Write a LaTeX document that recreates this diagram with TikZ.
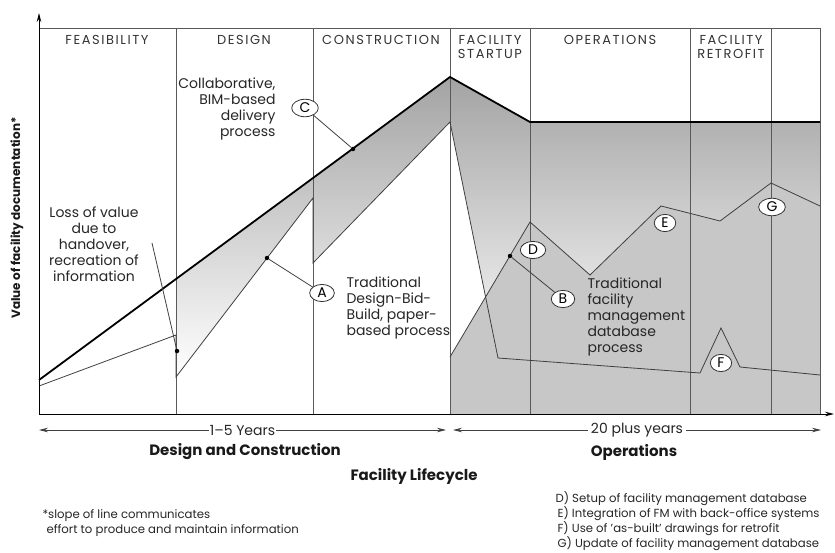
\documentclass[tikz,border=0pt]{standalone}
\usepackage{fontspec}
\setmainfont{Poppins}
\newfontfamily\headfont{Poppins}[LetterSpace=12.0]
\usetikzlibrary{arrows.meta, shapes.geometric}

\tikzset{
	phase/.style = {font=\headfont\fontsize{13}{14}\selectfont, align=center, text=black!80},
	note/.style = {font=\fontsize{14}{16}\selectfont, text=black!85},
	foot/.style = {font=\fontsize{11.7}{15}\selectfont, text=black!85, align=left},
	heading/.style = {font=\bfseries\fontsize{15}{16}\selectfont, text=black!90},
	tag/.style = {ellipse, draw=black!80, fill=white, line width=0.8pt, inner xsep=4pt, inner ysep=1.2pt, font=\fontsize{14}{14}\selectfont},
	dot/.style = {circle, fill=black, inner sep=0pt, minimum size=4.5pt},
	thin line/.style = {draw=black!75, line width=0.8pt},
	sep line/.style = {draw=black!65, line width=0.8pt},
	bim line/.style = {draw=black, line width=1.8pt},
}

\begin{document}
\begin{tikzpicture}[x=1pt, y=-1pt, >={Stealth[length=9pt, width=4.5pt]}]
		\useasboundingbox (0,0) rectangle (835,553);
		
		\coordinate (O) at (39,414);
		\coordinate (y tip) at (39,13);
		\coordinate (x tip) at (834,414);
		\coordinate (top left) at (39,28);
		\coordinate (top right) at (820,28);
		
		\coordinate (bim start) at (39,380);
		\coordinate (bim design) at (176,279);
		\coordinate (bim peak) at (450,77);
		\coordinate (bim ops) at (530,122);
		\coordinate (bim end) at (820,122);
		
		\coordinate (trad start) at (39,386);
		\coordinate (trad 1) at (176,335);
		\coordinate (trad 2) at (176,377);
		\coordinate (trad 3) at (313,198);
		\coordinate (trad 4) at (313,263);
		\coordinate (trad 5) at (450,122);
		\coordinate (trad 6) at (498,358);
		\coordinate (trad 7) at (700,373);
		\coordinate (trad 8) at (721,328);
		\coordinate (trad 9) at (740,367);
		\coordinate (trad 10) at (820,375);
		
		\coordinate (fm base left) at (450,414);
		\coordinate (fm 0) at (450,357);
		\coordinate (fm 1) at (530,222);
		\coordinate (fm 2) at (590,275);
		\coordinate (fm 3) at (661,206);
		\coordinate (fm 4) at (720,221);
		\coordinate (fm 5) at (771,183);
		\coordinate (fm 6) at (820,206);
		\coordinate (fm base right) at (820,414);
		
		\shade [top color=black!36, bottom color=white] (bim design) -- (bim peak) -- (bim ops) -- (bim end) -- (trad 10) -- (trad 9) -- (trad 8) -- (trad 7) -- (trad 6) -- (trad 5) -- (trad 4) -- (trad 3) -- (trad 2) -- cycle;
		\fill [black!22] (fm base left) -- (fm 0) -- (fm 1) -- (fm 2) -- (fm 3) -- (fm 4) -- (fm 5) -- (fm 6) -- (fm base right) -- cycle;
		
		\foreach \x in {176, 313, 450, 530, 690, 771, 820}
			\draw [sep line] (\x,28) -- (\x,414);
		\draw [sep line] (top left) -- (top right);
		
		\draw [thin line] (trad start) -- (trad 1) -- (trad 2) -- (trad 3) -- (trad 4) -- (trad 5) -- (trad 6) -- (trad 7) -- (trad 8) -- (trad 9) -- (trad 10);
		\draw [thin line] (fm 0) -- (fm 1) -- (fm 2) -- (fm 3) -- (fm 4) -- (fm 5) -- (fm 6);
		\draw [bim line] (bim start) -- (bim peak) -- (bim ops) -- (bim end);
		
		\draw [->, line width=1pt] (O) -- (y tip);
		\draw [->, line width=1pt] (O) -- (x tip);
		
		\node [phase] (feasibility) at (107,40) {FEASIBILITY};
		\node [phase] (design) at (244,40) {DESIGN};
		\node [phase] (construction) at (381,40) {CONSTRUCTION};
		\node [phase] (startup) at (490,47) {FACILITY\\STARTUP};
		\node [phase] (operations) at (610,40) {OPERATIONS};
		\node [phase] (retrofit) at (731,47) {FACILITY\\RETROFIT};
		
		\node [note, align=right, anchor=east] (bim text) at (279,109) {Collaborative,\\BIM-based\\delivery\\process};
		\node [note, align=center] (loss text) at (94,244) {Loss of value\\due to\\handover,\\recreation of\\information};
		\node [note, align=left, anchor=west] (trad text) at (343,308) {Traditional\\Design-Bid-\\Build, paper-\\based process};
		\node [note, align=left, anchor=west] (fm text) at (584,317) {Traditional\\facility\\management\\database\\process};
		
		\node [dot] (dot C) at (353,149) {};
		\node [dot] (dot A) at (267,258) {};
		\node [dot] (dot loss) at (177,351) {};
		\node [dot] (dot D) at (510,256) {};
		\coordinate (loss tip) at (152,243);
		
		\node [tag] (tag C) at (305,108) {C};
		\node [tag] (tag A) at (322,293) {A};
		\node [tag] (tag B) at (563,299) {B};
		\node [tag] (tag D) at (533,250) {D};
		\node [tag] (tag E) at (665,223) {E};
		\node [tag] (tag F) at (721,363) {F};
		\node [tag] (tag G) at (772,207) {G};
		
		\draw [thin line] (dot C) -- (tag C);
		\draw [thin line] (dot A) -- (tag A);
		\draw [thin line] (dot D) -- (tag B);
		\draw [thin line] (loss tip) -- (dot loss);
		
		\coordinate (dc left) at (39,430);
		\coordinate (dc right) at (446,430);
		\coordinate (op left) at (453,430);
		\coordinate (op right) at (821,430);
		\draw [<->, thin line] (dc left) -- node [note, fill=white, inner sep=1pt] (dc span) {1--5 Years} (dc right);
		\draw [<->, thin line] (op left) -- node [note, fill=white, inner sep=3pt] (op span) {20 plus years} (op right);
		
		\node [heading] (dc label) at (245,452) {Design and Construction};
		\node [heading] (op label) at (634,452) {Operations};
		\node [heading] (lifecycle) at (414,476) {Facility Lifecycle};
		
		\node [heading, rotate=90, font=\bfseries\fontsize{12}{13}\selectfont] (y label) at (17,218) {Value of facility documentation*};
		
		\node [foot, anchor=west] (slope note) at (39,523) {*slope of line communicates\\\hspace*{4pt}effort to produce and maintain information};
		\node [foot, anchor=west] (legend) at (552,521) {D) Setup of facility management database\\\hspace*{2pt}E) Integration of FM with back-office systems\\\hspace*{2pt}F) Use of 'as-built' drawings for retrofit\\\hspace*{2pt}G) Update of facility management database};
	\end{tikzpicture}
\end{document}
